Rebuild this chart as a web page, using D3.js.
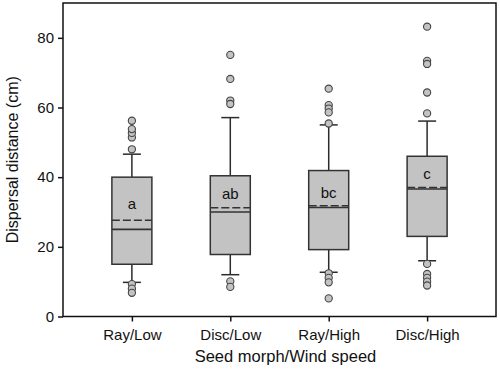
<!DOCTYPE html>
<html>
<head>
<meta charset="utf-8">
<script src="https://cdn.jsdelivr.net/npm/d3@7"></script>
<style>
  body { margin: 0; background: #fff; }
  text { font-family: "Liberation Sans", Arial, sans-serif; }
</style>
</head>
<body>
<svg width="500" height="375"></svg>
<script>
// groups along the x axis
let groups = ['Ray/Low', 'Disc/Low', 'Ray/High', 'Disc/High'];
// box statistics (cm)
let q1 = [15, 17.8, 19.2, 23];
let medians = [25, 30, 31.3, 36.6];
let means = [27.6, 31.2, 31.8, 37];
let q3 = [40, 40.4, 41.9, 46];
let whiskLow = [9.8, 12, 12.7, 16];
let whiskHigh = [46.6, 57.1, 55, 56.1];
let outliers = [
  [48, 51.4, 52.7, 53.8, 56.2, 9.3, 8, 6.8],
  [75.1, 68.2, 62, 61, 10.1, 8.5],
  [65.4, 60.7, 59.7, 58.6, 55.4, 12.4, 11.1, 9.8, 5.2],
  [83.2, 73.4, 72.5, 64.3, 58.3, 15.1, 12.2, 11.1, 10, 8.9]
];
let letters = ['a', 'ab', 'bc', 'c'];
let letterY = [32.5, 35.2, 35.6, 41];
let yTicks = [0, 20, 40, 60, 80];

let svg = d3.select('svg');
let plotLeft = 63, plotRight = 496, plotTop = 3, plotBottom = 316.5;

let xScale = d3.scalePoint()
               .domain(groups)
               .range([plotLeft, plotRight])
               .padding(0.7);

let yScale = d3.scaleLinear()
               .domain([0, 90])
               .range([plotBottom, plotTop]);

let boxW = 40, capW = 18;
let ink = '#2b2b2b';

let data = groups.map(function(g, i) {
  return {g: g, q1: q1[i], med: medians[i], mean: means[i], q3: q3[i],
          lo: whiskLow[i], hi: whiskHigh[i], out: outliers[i],
          letter: letters[i], ly: letterY[i]};
});

// whiskers
data.forEach(function(d) {
  let cx = xScale(d.g);
  svg.append('line')
     .attr('x1', cx).attr('x2', cx)
     .attr('y1', yScale(d.q3)).attr('y2', yScale(d.hi))
     .attr('stroke', ink).attr('stroke-width', 1.5);
  svg.append('line')
     .attr('x1', cx).attr('x2', cx)
     .attr('y1', yScale(d.q1)).attr('y2', yScale(d.lo))
     .attr('stroke', ink).attr('stroke-width', 1.5);
  [d.hi, d.lo].forEach(function(v) {
    svg.append('line')
       .attr('x1', cx - capW / 2).attr('x2', cx + capW / 2)
       .attr('y1', yScale(v)).attr('y2', yScale(v))
       .attr('stroke', ink).attr('stroke-width', 1.5);
  });
});

// boxes
svg.selectAll('rect.box')
   .data(data)
   .enter()
   .append('rect')
   .attr('class', 'box')
   .attr('x', function(d) { return xScale(d.g) - boxW / 2; })
   .attr('y', function(d) { return yScale(d.q3); })
   .attr('width', boxW)
   .attr('height', function(d) { return yScale(d.q1) - yScale(d.q3); })
   .attr('fill', '#c3c3c3')
   .attr('stroke', '#333')
   .attr('stroke-width', 1.5);

// medians
svg.selectAll('line.median')
   .data(data)
   .enter()
   .append('line')
   .attr('class', 'median')
   .attr('x1', function(d) { return xScale(d.g) - boxW / 2; })
   .attr('x2', function(d) { return xScale(d.g) + boxW / 2; })
   .attr('y1', function(d) { return yScale(d.med); })
   .attr('y2', function(d) { return yScale(d.med); })
   .attr('stroke', '#333')
   .attr('stroke-width', 1.6);

// means (dashed)
svg.selectAll('line.mean')
   .data(data)
   .enter()
   .append('line')
   .attr('class', 'mean')
   .attr('x1', function(d) { return xScale(d.g) - boxW / 2; })
   .attr('x2', function(d) { return xScale(d.g) + boxW / 2; })
   .attr('y1', function(d) { return yScale(d.mean); })
   .attr('y2', function(d) { return yScale(d.mean); })
   .attr('stroke', '#333')
   .attr('stroke-width', 1.5)
   .attr('stroke-dasharray', '8,3');

// outliers
data.forEach(function(d) {
  svg.selectAll(null)
     .data(d.out)
     .enter()
     .append('circle')
     .attr('r', 3.6)
     .attr('cx', xScale(d.g))
     .attr('cy', function(v) { return yScale(v); })
     .attr('fill', '#c3c3c3')
     .attr('stroke', '#444')
     .attr('stroke-width', 1.1);
});

// letters
svg.selectAll('text.letter')
   .data(data)
   .enter()
   .append('text')
   .attr('class', 'letter')
   .attr('x', function(d) { return xScale(d.g); })
   .attr('y', function(d) { return yScale(d.ly); })
   .attr('dy', '0.35em')
   .attr('text-anchor', 'middle')
   .style('font-size', '15px')
   .attr('fill', '#111')
   .text(function(d) { return d.letter; });

// frame
svg.append('rect')
   .attr('x', plotLeft).attr('y', plotTop)
   .attr('width', plotRight - plotLeft).attr('height', plotBottom - plotTop)
   .attr('fill', 'none')
   .attr('stroke', '#111')
   .attr('stroke-width', 1.5);

let yAxis = d3.axisLeft(yScale)
              .tickValues(yTicks)
              .tickSize(5)
              .tickPadding(4);

let yG = svg.append('g')
            .attr('transform', 'translate(' + plotLeft + ',0)')
            .call(yAxis);

let xAxis = d3.axisBottom(xScale)
              .tickSize(5)
              .tickPadding(8);

let xG = svg.append('g')
            .attr('transform', 'translate(0,' + plotBottom + ')')
            .call(xAxis);

[yG, xG].forEach(function(g) {
  g.select('.domain').remove();
  g.selectAll('line').attr('stroke', '#111').attr('stroke-width', 1.5);
  g.selectAll('text')
   .style('font-family', '"Liberation Sans", Arial, sans-serif')
   .style('font-size', '15px')
   .attr('fill', '#111');
});

svg.append('text')
   .attr('x', (plotLeft + plotRight) / 2 + 6)
   .attr('y', 362)
   .attr('text-anchor', 'middle')
   .style('font-size', '16.5px')
   .attr('fill', '#111')
   .text('Seed morph/Wind speed');

svg.append('text')
   .attr('transform', 'translate(18,' + ((plotTop + plotBottom) / 2) + ') rotate(-90)')
   .attr('text-anchor', 'middle')
   .style('font-size', '16px')
   .attr('fill', '#111')
   .text('Dispersal distance (cm)');
</script>
</body>
</html>
